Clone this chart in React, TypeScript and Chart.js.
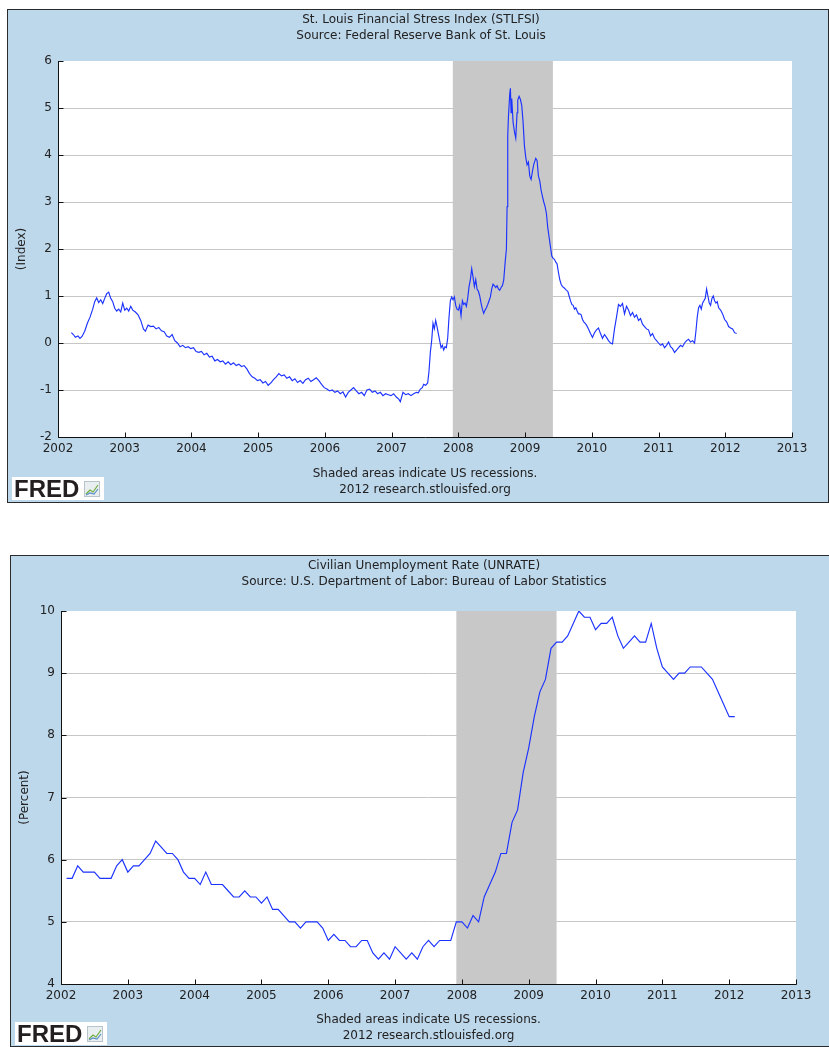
import React, { useEffect, useRef } from "react";
import { Chart, registerables } from "chart.js";

Chart.register(...registerables);

// ---------- DATA ----------
// St. Louis Financial Stress Index (weekly, decimal-year dates)
const fsiDates = [
  2002.20, 2002.23, 2002.26, 2002.30, 2002.33, 2002.36, 2002.40, 2002.44, 2002.48, 2002.52,
  2002.55, 2002.58, 2002.61, 2002.64, 2002.67, 2002.70, 2002.73, 2002.76, 2002.79, 2002.82,
  2002.85, 2002.88, 2002.91, 2002.94, 2002.97, 2003.00, 2003.03, 2003.06, 2003.09, 2003.12,
  2003.16, 2003.20, 2003.24, 2003.28, 2003.31, 2003.35, 2003.39, 2003.43, 2003.47, 2003.51,
  2003.55, 2003.59, 2003.63, 2003.67, 2003.71, 2003.75, 2003.79, 2003.83, 2003.87, 2003.91,
  2003.95, 2003.99, 2004.03, 2004.07, 2004.11, 2004.15, 2004.19, 2004.23, 2004.27, 2004.31,
  2004.35, 2004.39, 2004.43, 2004.47, 2004.51, 2004.55, 2004.59, 2004.63, 2004.67, 2004.71,
  2004.75, 2004.79, 2004.83, 2004.87, 2004.91, 2004.95, 2004.99, 2005.03, 2005.07, 2005.11,
  2005.15, 2005.19, 2005.23, 2005.27, 2005.31, 2005.35, 2005.39, 2005.43, 2005.47, 2005.51,
  2005.55, 2005.59, 2005.63, 2005.67, 2005.71, 2005.75, 2005.79, 2005.83, 2005.87, 2005.91,
  2005.95, 2005.99, 2006.03, 2006.07, 2006.11, 2006.15, 2006.19, 2006.23, 2006.27, 2006.31,
  2006.35, 2006.39, 2006.43, 2006.47, 2006.51, 2006.55, 2006.59, 2006.63, 2006.67, 2006.71,
  2006.75, 2006.79, 2006.83, 2006.87, 2006.91, 2006.95, 2006.99, 2007.03, 2007.07, 2007.11,
  2007.13, 2007.17, 2007.21, 2007.25, 2007.29, 2007.33, 2007.37, 2007.40, 2007.43, 2007.46,
  2007.48, 2007.51, 2007.54, 2007.56, 2007.58, 2007.60, 2007.62, 2007.64, 2007.66, 2007.68,
  2007.70, 2007.72, 2007.74, 2007.76, 2007.78, 2007.80, 2007.82, 2007.84, 2007.86, 2007.88,
  2007.90, 2007.92, 2007.94, 2007.96, 2007.98, 2008.00, 2008.02, 2008.04, 2008.06, 2008.08,
  2008.10, 2008.12, 2008.14, 2008.16, 2008.18, 2008.20, 2008.22, 2008.24, 2008.26, 2008.28,
  2008.30, 2008.32, 2008.34, 2008.36, 2008.38, 2008.40, 2008.42, 2008.44, 2008.46, 2008.48,
  2008.50, 2008.52, 2008.54, 2008.56, 2008.58, 2008.60, 2008.62, 2008.64, 2008.66, 2008.68,
  2008.70, 2008.72, 2008.73, 2008.74, 2008.75, 2008.77, 2008.78, 2008.79, 2008.80, 2008.82,
  2008.84, 2008.86, 2008.88, 2008.89, 2008.91, 2008.93, 2008.95, 2008.97, 2008.99, 2009.01,
  2009.03, 2009.05, 2009.07, 2009.09, 2009.11, 2009.13, 2009.16, 2009.18, 2009.20, 2009.22,
  2009.24, 2009.26, 2009.28, 2009.30, 2009.32, 2009.34, 2009.36, 2009.38, 2009.40, 2009.42,
  2009.44, 2009.46, 2009.48, 2009.50, 2009.52, 2009.54, 2009.56, 2009.58, 2009.60, 2009.62,
  2009.64, 2009.66, 2009.68, 2009.70, 2009.72, 2009.74, 2009.76, 2009.78, 2009.80, 2009.82,
  2009.84, 2009.86, 2009.88, 2009.90, 2009.92, 2009.95, 2009.98, 2010.01, 2010.04, 2010.07,
  2010.10, 2010.13, 2010.16, 2010.19, 2010.22, 2010.25, 2010.28, 2010.31, 2010.34, 2010.37,
  2010.40, 2010.43, 2010.46, 2010.49, 2010.52, 2010.55, 2010.58, 2010.61, 2010.64, 2010.67,
  2010.70, 2010.73, 2010.76, 2010.79, 2010.82, 2010.85, 2010.88, 2010.91, 2010.94, 2010.97,
  2011.00, 2011.03, 2011.06, 2011.09, 2011.12, 2011.15, 2011.18, 2011.21, 2011.24, 2011.27,
  2011.30, 2011.33, 2011.36, 2011.39, 2011.42, 2011.45, 2011.48, 2011.51, 2011.54, 2011.56,
  2011.58, 2011.60, 2011.62, 2011.64, 2011.66, 2011.68, 2011.70, 2011.72, 2011.74, 2011.76,
  2011.78, 2011.80, 2011.82, 2011.84, 2011.86, 2011.88, 2011.90, 2011.93, 2011.96, 2011.99,
  2012.02, 2012.05, 2012.08, 2012.11, 2012.14, 2012.17,
];
const fsiValues = [
  0.22, 0.18, 0.12, 0.15, 0.10, 0.14, 0.25, 0.42, 0.55, 0.72,
  0.88, 0.96, 0.86, 0.92, 0.84, 0.95, 1.05, 1.08, 0.95, 0.88,
  0.74, 0.68, 0.72, 0.66, 0.85, 0.70, 0.74, 0.68, 0.78, 0.70,
  0.66, 0.60, 0.48, 0.30, 0.25, 0.38, 0.35, 0.36, 0.30, 0.33,
  0.26, 0.24, 0.15, 0.12, 0.18, 0.05, 0.00, -0.08, -0.05, -0.10,
  -0.08, -0.12, -0.10, -0.18, -0.20, -0.18, -0.25, -0.22, -0.30, -0.28,
  -0.38, -0.35, -0.40, -0.38, -0.45, -0.40, -0.46, -0.42, -0.48, -0.45,
  -0.50, -0.48, -0.55, -0.65, -0.72, -0.75, -0.80, -0.78, -0.85, -0.82,
  -0.90, -0.85, -0.78, -0.72, -0.65, -0.70, -0.68, -0.75, -0.72, -0.80,
  -0.76, -0.84, -0.80, -0.86, -0.78, -0.75, -0.82, -0.78, -0.74, -0.80,
  -0.88, -0.95, -0.98, -1.02, -1.00, -1.05, -1.02, -1.08, -1.04, -1.15,
  -1.05, -1.00, -0.95, -1.02, -1.08, -1.05, -1.12, -1.00, -0.98, -1.05,
  -1.02, -1.08, -1.05, -1.12, -1.08, -1.10, -1.12, -1.08, -1.15, -1.20,
  -1.25, -1.05, -1.10, -1.08, -1.12, -1.08, -1.05, -1.06, -0.98, -0.95,
  -0.88, -0.90, -0.85, -0.60, -0.20, 0.05, 0.42, 0.30, 0.48, 0.35,
  0.20, 0.05, -0.10, -0.05, -0.15, -0.08, -0.10, 0.10, 0.55, 0.90,
  0.98, 0.92, 0.98, 0.80, 0.72, 0.70, 0.80, 0.58, 0.90, 0.82,
  0.85, 0.78, 0.95, 1.20, 1.35, 1.58, 1.40, 1.20, 1.35, 1.15,
  1.10, 1.00, 0.85, 0.72, 0.63, 0.70, 0.75, 0.82, 0.90, 0.98,
  1.15, 1.25, 1.22, 1.18, 1.22, 1.15, 1.12, 1.18, 1.22, 1.34,
  1.70, 2.00, 2.90, 4.40, 4.80, 5.30, 5.42, 4.90, 5.20, 4.70,
  4.50, 4.36, 4.90, 5.17, 5.25, 5.18, 5.05, 4.70, 4.20, 3.95,
  3.79, 3.85, 3.55, 3.48, 3.65, 3.80, 3.93, 3.88, 3.55, 3.45,
  3.25, 3.12, 3.00, 2.90, 2.75, 2.45, 2.25, 2.05, 1.85, 1.80,
  1.78, 1.72, 1.68, 1.50, 1.35, 1.25, 1.20, 1.18, 1.15, 1.12,
  1.10, 1.00, 0.90, 0.82, 0.80, 0.72, 0.75, 0.68, 0.62, 0.62,
  0.60, 0.50, 0.45, 0.42, 0.38, 0.30, 0.20, 0.12, 0.22, 0.28,
  0.32, 0.20, 0.10, 0.18, 0.12, 0.05, 0.00, -0.02, 0.30, 0.55,
  0.82, 0.78, 0.84, 0.62, 0.78, 0.70, 0.58, 0.65, 0.55, 0.60,
  0.48, 0.52, 0.40, 0.35, 0.30, 0.28, 0.15, 0.20, 0.10, 0.05,
  0.00, -0.05, -0.02, -0.10, -0.05, 0.02, -0.08, -0.12, -0.20, -0.15,
  -0.10, -0.05, -0.08, 0.00, 0.05, 0.08, 0.02, 0.05, 0.00, 0.25,
  0.55, 0.75, 0.80, 0.72, 0.85, 0.90, 0.95, 1.15, 1.00, 0.85,
  0.80, 0.95, 1.00, 0.90, 0.85, 0.88, 0.75, 0.70, 0.62, 0.50,
  0.45, 0.35, 0.32, 0.30, 0.22, 0.20,
];

// Civilian Unemployment Rate (monthly, %), series starts Feb 2002
const unrateStartYear = 2002;
const unrateStartMonth = 2;
const unrateValues = [
  /* 2002 */ 5.7, 5.7, 5.9, 5.8, 5.8, 5.8, 5.7, 5.7, 5.7, 5.9, 6.0,
  /* 2003 */ 5.8, 5.9, 5.9, 6.0, 6.1, 6.3, 6.2, 6.1, 6.1, 6.0, 5.8, 5.7,
  /* 2004 */ 5.7, 5.6, 5.8, 5.6, 5.6, 5.6, 5.5, 5.4, 5.4, 5.5, 5.4, 5.4,
  /* 2005 */ 5.3, 5.4, 5.2, 5.2, 5.1, 5.0, 5.0, 4.9, 5.0, 5.0, 5.0, 4.9,
  /* 2006 */ 4.7, 4.8, 4.7, 4.7, 4.6, 4.6, 4.7, 4.7, 4.5, 4.4, 4.5, 4.4,
  /* 2007 */ 4.6, 4.5, 4.4, 4.5, 4.4, 4.6, 4.7, 4.6, 4.7, 4.7, 4.7, 5.0,
  /* 2008 */ 5.0, 4.9, 5.1, 5.0, 5.4, 5.6, 5.8, 6.1, 6.1, 6.6, 6.8, 7.4,
  /* 2009 */ 7.8, 8.3, 8.7, 8.9, 9.4, 9.5, 9.5, 9.6, 9.8, 10.0, 9.9, 9.9,
  /* 2010 */ 9.7, 9.8, 9.8, 9.9, 9.6, 9.4, 9.5, 9.6, 9.5, 9.5, 9.8, 9.4,
  /* 2011 */ 9.1, 9.0, 8.9, 9.0, 9.0, 9.1, 9.1, 9.1, 9.0, 8.9, 8.7, 8.5,
  /* 2012 */ 8.3, 8.3,
];

// US recession (Dec 2007 - Jun 2009), decimal years
const recessionStart = 2007 + 11 / 12;
const recessionEnd = 2009 + 5 / 12;

const xMin = 2002;
const xMax = 2013;
const fsiTicks = [-2, -1, 0, 1, 2, 3, 4, 5, 6];
const unrateTicks = [4, 5, 6, 7, 8, 9, 10];

const FOOT1 = "Shaded areas indicate US recessions.";
const FOOT2 = "2012 research.stlouisfed.org";

// ---------- STYLE ----------
const BG = "#bdd7eb";
const LINE = "#1c33ff";
const GRID = "#c6c6c6";
const SHADE = "#c8c8c8";
const TXT = "#222222";
const FONT = "'DejaVu Sans', sans-serif";

const fredPlugin = {
  id: "fredDecor",
  beforeDraw(chart: any, _a: any, o: any) {
    const { ctx, width, height, chartArea: ca } = chart;
    ctx.save();
    ctx.fillStyle = BG;
    ctx.fillRect(0, 0, width, height);
    ctx.strokeStyle = "#2b2b2b";
    ctx.lineWidth = 1;
    ctx.strokeRect(0.5, 0.5, width - 1, height - 1);
    ctx.fillStyle = "#ffffff";
    ctx.fillRect(ca.left, ca.top, ca.right - ca.left, ca.bottom - ca.top);
    ctx.restore();
  },
  beforeDatasetsDraw(chart: any, _a: any, o: any) {
    const { ctx, chartArea: ca, scales } = chart;
    const x1 = scales.x.getPixelForValue(o.recStart);
    const x2 = scales.x.getPixelForValue(o.recEnd);
    ctx.save();
    ctx.fillStyle = SHADE;
    ctx.fillRect(x1, ca.top, x2 - x1, ca.bottom - ca.top);
    ctx.restore();
  },
  afterDatasetsDraw(chart: any, _a: any, o: any) {
    const { ctx, chartArea: ca, scales } = chart;
    ctx.save();
    ctx.strokeStyle = "#111111";
    ctx.lineWidth = 1;
    const L = Math.round(ca.left) + 0.5;
    const B = Math.round(ca.bottom) + 0.5;
    ctx.beginPath();
    ctx.moveTo(L, Math.round(ca.top));
    ctx.lineTo(L, B);
    ctx.lineTo(Math.round(ca.right) + 0.5, B);
    // x ticks inside
    for (let yr = xMin; yr <= xMax; yr++) {
      const px = Math.round(scales.x.getPixelForValue(yr)) + 0.5;
      ctx.moveTo(px, B);
      ctx.lineTo(px, B - 5);
    }
    // y ticks inside
    for (const v of o.yTicks) {
      const py = Math.round(scales.y.getPixelForValue(v)) + 0.5;
      ctx.moveTo(L, py);
      ctx.lineTo(L + 5, py);
    }
    ctx.stroke();
    ctx.restore();
  },
  afterDraw(chart: any, _a: any, o: any) {
    const { ctx, chartArea: ca } = chart;
    ctx.save();
    ctx.fillStyle = TXT;
    ctx.textAlign = "center";
    ctx.textBaseline = "middle";
    ctx.font = `12px ${FONT}`;
    ctx.fillText(o.title, o.titleX, o.titleY);
    ctx.fillText(o.subtitle, o.titleX, o.titleY + 16);
    const fx = (ca.left + ca.right) / 2;
    ctx.fillText(FOOT1, fx, o.footY);
    ctx.fillText(FOOT2, fx, o.footY + 16);
    // y axis title
    ctx.save();
    ctx.translate(o.yTitleX, (ca.top + ca.bottom) / 2);
    ctx.rotate(-Math.PI / 2);
    ctx.fillText(o.yTitle, 0, 0);
    ctx.restore();
    // FRED logo
    const lx = o.logoX, ly = o.logoY;
    ctx.fillStyle = "#ffffff";
    ctx.fillRect(lx, ly, 92, 23);
    ctx.fillStyle = "#231f20";
    ctx.textAlign = "left";
    ctx.textBaseline = "alphabetic";
    ctx.font = "bold 24px 'Liberation Sans', Arial, sans-serif";
    ctx.fillText("FRED", lx + 2, ly + 20);
    // small chart icon
    const ix = lx + 72, iy = ly + 4;
    ctx.fillStyle = "#e9eef1";
    ctx.fillRect(ix, iy, 16, 16);
    ctx.strokeStyle = "#b8c4cc";
    ctx.lineWidth = 1;
    ctx.strokeRect(ix + 0.5, iy + 0.5, 15, 15);
    ctx.lineWidth = 1.2;
    ctx.strokeStyle = "#6fae3f";
    ctx.beginPath();
    ctx.moveTo(ix + 2, iy + 13); ctx.lineTo(ix + 6, iy + 9); ctx.lineTo(ix + 9, iy + 11); ctx.lineTo(ix + 14, iy + 4);
    ctx.stroke();
    ctx.strokeStyle = "#5b8fc9";
    ctx.beginPath();
    ctx.moveTo(ix + 2, iy + 14); ctx.lineTo(ix + 6, iy + 12); ctx.lineTo(ix + 10, iy + 13); ctx.lineTo(ix + 14, iy + 8);
    ctx.stroke();
    ctx.restore();
  },
};

function buildConfig(p: any) {
  return {
    type: "line",
    data: {
      datasets: [
        {
          data: p.points,
          borderColor: LINE,
          borderWidth: 1.15,
          pointRadius: 0,
          tension: 0,
          fill: false,
        },
      ],
    },
    options: {
      responsive: false,
      animation: false,
      devicePixelRatio: 1,
      events: [],
      layout: { padding: { left: 0, top: p.padTop, right: p.padRight, bottom: p.padBottom } },
      plugins: {
        legend: { display: false },
        tooltip: { enabled: false },
        fredDecor: p.decor,
      },
      scales: {
        x: {
          type: "linear",
          min: xMin,
          max: xMax,
          afterFit: (s: any) => { s.height = 24; },
          grid: { display: false, drawTicks: false },
          border: { display: false },
          ticks: {
            stepSize: 1,
            autoSkip: false,
            maxRotation: 0,
            padding: 5,
            color: TXT,
            font: { family: FONT, size: 12 },
            callback: (v: any) => String(v),
          },
        },
        y: {
          type: "linear",
          min: p.yMin,
          max: p.yMax,
          afterFit: (s: any) => { s.width = 51; },
          grid: {
            color: (c: any) => (c.tick && c.tick.value === p.yMax ? "rgba(0,0,0,0)" : GRID),
            drawTicks: false,
          },
          border: { display: false },
          ticks: {
            stepSize: 1,
            padding: 6,
            color: TXT,
            font: { family: FONT, size: 12 },
            callback: (v: any) => String(v),
          },
        },
      },
    },
    plugins: [fredPlugin],
  };
}

function FredChart(props: { left: number; top: number; width: number; height: number; config: any }) {
  const ref = useRef<HTMLCanvasElement | null>(null);
  useEffect(() => {
    if (!ref.current) return;
    const chart = new Chart(ref.current, props.config);
    return () => chart.destroy();
  }, []);
  return (
    <canvas
      ref={ref}
      width={props.width}
      height={props.height}
      style={{ position: "absolute", left: props.left, top: props.top, width: props.width, height: props.height }}
    />
  );
}

const fsiPoints = fsiDates.map((d, i) => ({ x: d, y: fsiValues[i] }));
const unratePoints = unrateValues.map((v, i) => {
  const m = unrateStartMonth - 1 + i;
  return { x: unrateStartYear + Math.floor(m / 12) + (m % 12) / 12, y: v };
});

const fsiConfig = buildConfig({
  points: fsiPoints,
  yMin: -2,
  yMax: 6,
  padTop: 52,
  padRight: 37,
  padBottom: 42,
  decor: {
    title: "St. Louis Financial Stress Index (STLFSI)",
    subtitle: "Source: Federal Reserve Bank of St. Louis",
    titleX: 414,
    titleY: 11,
    footY: 465,
    yTitle: "(Index)",
    yTitleX: 15,
    yTicks: fsiTicks,
    logoX: 5,
    logoY: 468,
    recStart: recessionStart,
    recEnd: recessionEnd,
  },
});

const unrateConfig = buildConfig({
  points: unratePoints,
  yMin: 4,
  yMax: 10,
  padTop: 56,
  padRight: 36,
  padBottom: 39,
  decor: {
    title: "Civilian Unemployment Rate (UNRATE)",
    subtitle: "Source: U.S. Department of Labor: Bureau of Labor Statistics",
    titleX: 414,
    titleY: 11,
    footY: 465,
    yTitle: "(Percent)",
    yTitleX: 15,
    yTicks: unrateTicks,
    logoX: 5,
    logoY: 467,
    recStart: recessionStart,
    recEnd: recessionEnd,
  },
});

export default function App() {
  return (
    <div
      style={{
        position: "absolute",
        left: 0,
        top: 0,
        width: 829,
        height: 1047,
        overflow: "hidden",
        background: "#ffffff",
      }}
    >
      <FredChart left={7} top={9} width={822} height={494} config={fsiConfig} />
      <FredChart left={10} top={555} width={822} height={492} config={unrateConfig} />
    </div>
  );
}
